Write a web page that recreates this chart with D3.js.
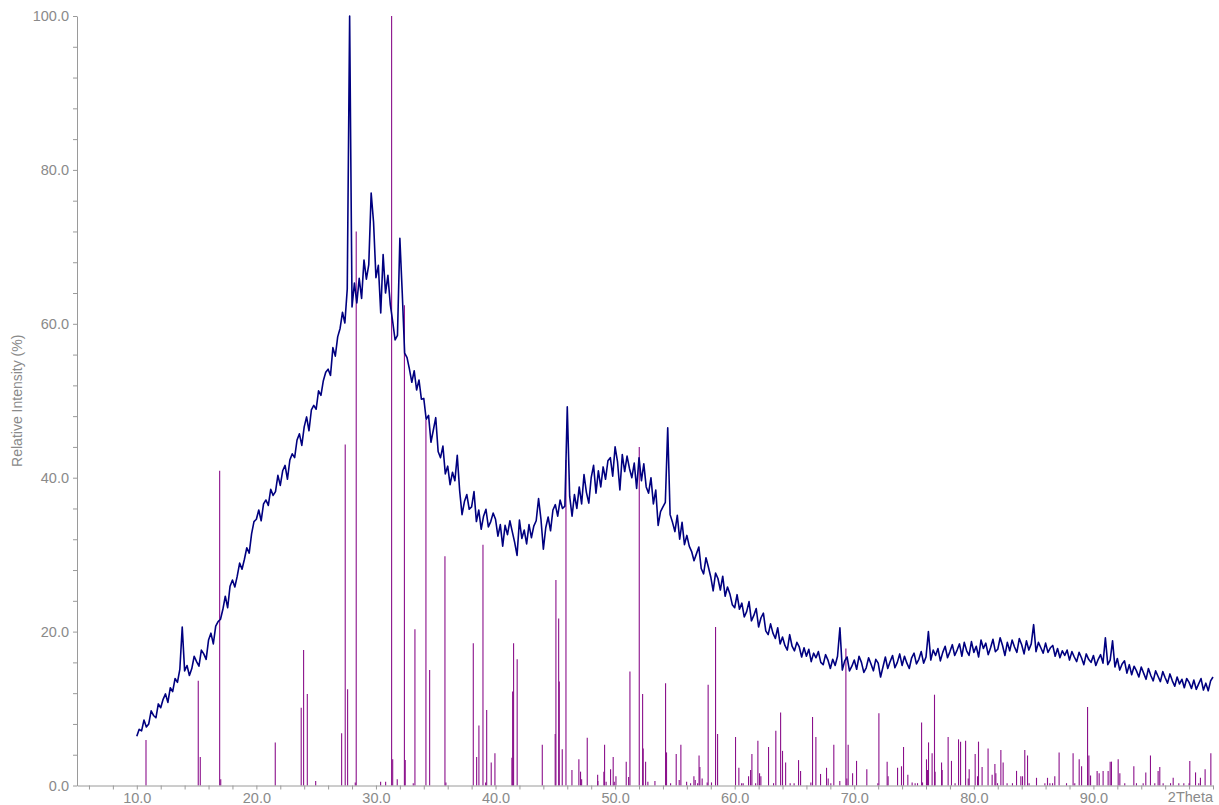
<!DOCTYPE html>
<html><head><meta charset="utf-8">
<script src="https://cdn.jsdelivr.net/npm/d3@7"></script>
<style>body{margin:0;background:#fff}svg{display:block}</style>
</head><body><svg id="c" width="1219" height="805"></svg>
<script>
// measured scan: start angle and step (2Theta, degrees)
const scanStart = 10.0, scanStep = 0.2;
// relative intensity (%), one value per step
const intensity = [
  6.4, 7.3, 7.1, 8.5, 7.6,
  8.0, 9.7, 9.1, 8.8, 10.6,
  10.1, 11.2, 11.9, 10.8, 12.7,
  12.2, 13.9, 13.4, 15.1, 20.6,
  14.9, 15.6, 14.3, 15.2, 16.8,
  16.1, 15.5, 17.6, 17.1, 16.4,
  18.9, 19.8, 18.4, 20.7, 21.3,
  21.6, 22.9, 24.6, 23.1, 25.9,
  26.7, 25.8, 27.2, 28.9, 28.1,
  29.4, 30.9, 30.2, 32.7, 34.3,
  34.6, 35.8, 34.4, 36.6, 37.1,
  36.4, 38.5, 37.7, 38.2, 40.3,
  39.0, 40.9, 41.6, 39.8, 42.3,
  43.1, 42.6, 44.9, 45.7, 44.2,
  46.6, 47.9, 46.1, 48.8, 49.4,
  48.9, 51.3, 50.7, 52.6, 53.7,
  54.1, 53.3, 56.9, 55.8, 58.3,
  59.4, 61.5, 60.1, 64.5, 100.0,
  62.2, 65.3, 62.7, 65.9, 63.3,
  68.3, 65.8, 67.7, 77.0, 73.2,
  66.0, 67.6, 61.4, 69.0, 64.0,
  66.3, 62.5, 60.3, 57.9, 58.5,
  71.1, 64.0, 56.2, 55.6, 54.1,
  52.4, 53.9, 51.4, 52.7, 50.2,
  50.3, 47.6, 48.1, 44.6, 46.2,
  47.8, 43.4, 42.6, 44.1, 40.5,
  41.5, 39.1, 40.7, 39.6, 42.9,
  38.3, 35.2, 36.9, 37.8, 35.9,
  36.2, 38.2, 34.3, 35.8, 33.3,
  35.0, 35.9, 33.6, 34.3, 35.4,
  34.6, 32.4, 33.9, 31.1, 33.8,
  32.6, 34.4, 33.0, 31.6, 29.9,
  34.5, 32.1, 33.2, 31.4, 33.9,
  32.2, 33.7, 34.4, 37.3, 34.6,
  30.7, 33.5, 34.9, 33.1, 35.8,
  36.5, 35.0, 37.1, 36.0, 36.3,
  49.2, 37.6, 35.0, 37.8, 36.0,
  38.8, 36.6, 40.4, 38.1, 36.7,
  40.0, 41.6, 38.0, 40.9, 38.8,
  41.4, 39.8, 42.2, 42.6, 40.2,
  44.0, 42.1, 38.4, 43.0, 40.8,
  42.8, 41.2, 40.0, 41.9, 38.6,
  42.6, 39.6, 41.8, 38.8, 38.0,
  40.0, 36.6, 38.4, 33.8, 35.6,
  36.2, 36.8, 46.5, 35.2, 34.2,
  33.0, 35.1, 32.0, 34.2, 31.3,
  32.5, 31.1, 30.4, 29.2, 30.1,
  31.0, 28.2, 27.5, 29.6, 28.4,
  27.1, 25.3, 27.6, 26.9, 25.4,
  27.2, 24.6, 25.8, 24.9, 23.5,
  23.1, 24.8, 22.9, 23.7, 21.9,
  22.6, 23.9, 21.4, 22.1, 23.0,
  20.6, 21.8, 22.4, 20.1, 19.6,
  21.0, 19.8, 19.1, 20.5, 18.4,
  19.3, 18.2, 17.6, 19.6, 18.1,
  17.5, 18.6, 18.0, 16.7, 17.9,
  16.8, 17.7, 16.1, 17.2, 16.6,
  17.4, 16.0, 15.7, 17.0, 16.3,
  15.2, 16.4, 15.6, 16.8, 20.5,
  15.0, 16.2, 16.7, 14.9, 15.5,
  16.3, 15.1, 16.8, 16.0, 14.7,
  15.3, 16.6, 15.8, 14.9, 16.4,
  15.9, 14.1, 15.4, 16.7, 15.2,
  16.1, 16.9, 15.3, 16.0, 17.1,
  15.6, 16.8, 15.9, 15.2, 16.6,
  17.2, 15.8, 16.4, 17.4, 15.9,
  16.7, 20.0, 16.3, 17.6, 16.9,
  17.8, 16.2, 17.3, 18.1, 16.6,
  17.4, 18.3, 16.9, 17.6, 18.4,
  16.8, 18.6, 17.5, 16.9, 18.7,
  17.3, 18.1, 16.7, 18.9, 17.8,
  18.5, 17.0, 17.9, 19.0, 17.4,
  17.7, 19.2, 18.2, 16.9, 18.6,
  17.5, 18.9, 18.0, 17.3, 19.1,
  18.3, 17.1, 18.8, 17.6, 18.4,
  20.9, 17.4, 18.6, 17.9, 17.2,
  18.5, 17.3, 17.9, 18.2, 16.8,
  17.8, 16.6, 17.5, 16.9, 17.6,
  16.3, 17.4, 16.7, 16.1, 17.3,
  16.6, 15.7, 17.1, 16.4, 16.0,
  16.9, 15.6, 16.4, 17.0, 15.9,
  19.2, 15.7, 16.3, 18.8, 15.4,
  16.5, 15.0, 15.8, 16.2, 14.6,
  15.7, 14.4, 15.5, 14.9, 14.1,
  15.4, 14.6, 13.8, 15.2, 14.3,
  13.6, 14.9, 14.2, 13.5, 14.8,
  14.0, 13.3, 14.5, 13.6, 12.9,
  14.1, 13.2, 13.8, 12.7, 13.9,
  13.4, 12.6, 13.7, 12.5, 13.2,
  13.9, 12.4, 13.3, 12.3, 13.6,
  14.1
];
// reference pattern sticks: positions (2Theta) and relative heights (%)
const refAngles = [10.77,15.14,15.31,16.93,17.02,21.58,23.75,23.95,24.26,24.96,27.13,27.43,27.63,28.27,28.35,30.39,30.81,31.31,31.40,31.78,
  32.38,32.45,33.12,33.26,34.18,34.49,35.77,35.85,38.14,38.42,38.61,38.95,39.17,39.26,39.64,39.95,41.37,41.43,41.51,41.81,
  43.91,44.99,45.05,45.28,45.33,45.58,45.89,46.39,46.97,47.11,47.20,47.67,48.54,48.56,49.06,49.12,49.25,49.62,49.84,49.93,
  50.07,50.93,51.13,51.24,52.02,52.30,52.35,52.55,52.74,53.33,54.22,54.30,54.64,55.11,55.36,55.50,55.98,56.31,56.59,56.70,
  56.90,57.02,57.09,57.28,57.70,57.78,58.06,58.40,58.57,60.07,60.35,60.58,60.71,61.16,61.33,61.44,61.75,61.94,62.08,62.19,
  62.83,63.25,63.44,63.84,64.00,64.26,64.64,64.97,65.34,65.51,66.37,66.51,66.79,67.18,67.68,67.82,68.04,68.29,68.79,69.30,
  69.38,69.49,69.86,70.19,71.05,71.97,72.06,72.75,72.83,73.62,73.95,74.12,74.48,74.84,75.09,75.29,75.63,75.71,76.04,76.12,
  76.21,76.51,76.71,76.76,77.30,77.35,77.85,78.13,78.43,78.72,78.89,79.31,79.53,79.61,80.11,80.31,80.39,80.69,81.19,81.53,
  81.76,81.84,81.98,82.26,82.45,82.78,83.23,83.57,83.93,84.07,84.26,84.49,84.62,85.24,85.94,86.16,86.36,86.58,86.77,87.13,
  87.75,88.30,88.44,88.81,89.01,89.51,89.62,89.76,90.31,90.48,90.81,91.23,91.40,91.51,92.07,92.21,92.62,93.38,93.60,94.16,
  94.38,94.77,95.13,95.41,95.55,95.83,96.45,96.67,97.14,97.56,98.00,98.06,98.54,98.81,98.95,99.34,99.82];
const refHeights = [5.9,13.6,3.7,40.9,0.8,5.6,10.1,17.6,11.9,0.6,6.8,44.3,12.5,0.4,72.0,0.5,0.5,100,3.4,0.8,
  62.4,3.3,0.3,20.3,47.5,15.0,29.8,0.4,18.5,3.7,7.8,31.3,0.4,9.8,3.0,4.2,3.6,12.2,18.5,16.4,
  5.3,6.7,26.7,21.7,13.5,4.7,42.3,2.0,3.4,1.8,0.8,6.2,1.4,0.6,1.8,5.3,0.5,2.1,3.7,0.5,
  1.2,3.1,1.1,14.8,44.0,11.9,4.8,3.1,0.5,0.6,13.3,4.3,0.3,4.1,0.7,5.3,0.5,0.3,1.2,0.7,
  0.3,3.9,2.4,0.9,0.4,13.1,0.4,20.6,6.7,6.3,2.3,0.3,0.3,1.2,2.0,4.1,0.3,5.8,1.6,1.2,
  5.0,0.3,7.1,9.5,4.5,3.0,0.3,0.3,3.3,1.9,0.4,8.9,6.3,1.5,2.3,0.9,0.3,5.3,0.6,17.8,
  0.9,5.3,1.6,3.2,2.1,0.3,9.4,3.1,1.2,2.3,2.5,5.0,1.4,0.4,0.3,0.3,8.2,0.4,3.4,2.0,
  5.6,4.2,11.8,1.8,3.0,2.0,6.3,3.2,0.3,6.0,5.7,5.8,0.9,2.1,4.1,1.2,5.7,2.4,4.8,1.4,
  2.8,1.6,0.3,4.6,3.0,0.3,0.3,1.9,1.2,1.2,4.6,3.9,0.3,1.0,0.3,1.0,0.3,0.3,1.2,4.3,
  0.3,4.2,0.3,3.4,2.5,10.2,3.9,1.3,1.9,1.6,1.9,1.9,3.1,3.1,3.4,1.6,0.3,2.5,0.3,0.3,
  1.7,3.9,0.3,1.9,2.4,0.3,0.3,1.0,0.3,0.3,0.3,3.2,1.7,0.3,1.0,2.1,4.2];
const xTickValues = [6,8,10,12,14,16,18,20,22,24,26,28,30,32,34,36,38,40,42,44,46,48,50,52,54,56,58,60,62,64,66,68,70,72,74,76,78,80,82,84,86,88,90,92,94,96,98,100];
const xLabelValues = [10,20,30,40,50,60,70,80,90];
const yTickValues = [0,4,8,12,16,20,24,28,32,36,40,44,48,52,56,60,64,68,72,76,80,84,88,92,96,100];
const yLabelValues = [0,20,40,60,80,100];
const xTitle = "2Theta";
const yTitle = "Relative Intensity (%)";

const svg = d3.select("#c");
const x = d3.scaleLinear().domain([5, 100]).range([77, 1213]);
const y = d3.scaleLinear().domain([0, 100]).range([785.5, 16]);
const font = "'Liberation Sans', Arial, sans-serif";
const gray = "#8a8a8a";
const fmt = d3.format(".1f");

// sticks
svg.append("g").selectAll("line").data(refAngles).join("line")
  .attr("x1", d => x(d)).attr("x2", d => x(d))
  .attr("y1", y(0)).attr("y2", (d, i) => y(refHeights[i]))
  .attr("stroke", "#8b108b").attr("stroke-width", 1.1);

// scan
const pts = intensity.map((v, i) => [scanStart + i * scanStep, v]);
svg.append("path").datum(pts)
  .attr("fill", "none").attr("stroke", "#000080").attr("stroke-width", 1.6)
  .attr("stroke-linejoin", "round")
  .attr("d", d3.line().x(d => x(d[0])).y(d => y(d[1])));

// axes
const xAxis = d3.axisBottom(x).tickValues(xTickValues).tickSize(4).tickSizeOuter(0)
  .tickFormat(d => xLabelValues.includes(d) ? fmt(d) : "");
const gx = svg.append("g").attr("transform", `translate(0,${y(0)})`).call(xAxis);
const yAxis = d3.axisLeft(y).tickValues(yTickValues).tickSize(4).tickSizeOuter(0)
  .tickFormat(d => yLabelValues.includes(d) ? fmt(d) : "");
const gy = svg.append("g").attr("transform", `translate(${x(5)},0)`).call(yAxis);
[gx, gy].forEach(g => {
  g.select(".domain").attr("stroke", "#9a9a9a");
  g.selectAll(".tick line").attr("stroke", "#9a9a9a");
  g.selectAll(".tick text").attr("fill", gray).attr("font-family", font).attr("font-size", 14.5);
});
gx.selectAll(".tick text").attr("dy", "0.71em").attr("y", 7);
gy.selectAll(".tick text").attr("x", -8);

svg.append("text").attr("x", x(100)).attr("y", 802).attr("text-anchor", "end")
  .attr("fill", gray).attr("font-family", font).attr("font-size", 14.5).text(xTitle);
svg.append("text").attr("transform", `translate(22,${(y(0) + y(100)) / 2}) rotate(-90)`)
  .attr("text-anchor", "middle").attr("fill", gray).attr("font-family", font)
  .attr("font-size", 14).text(yTitle);
</script></body></html>
